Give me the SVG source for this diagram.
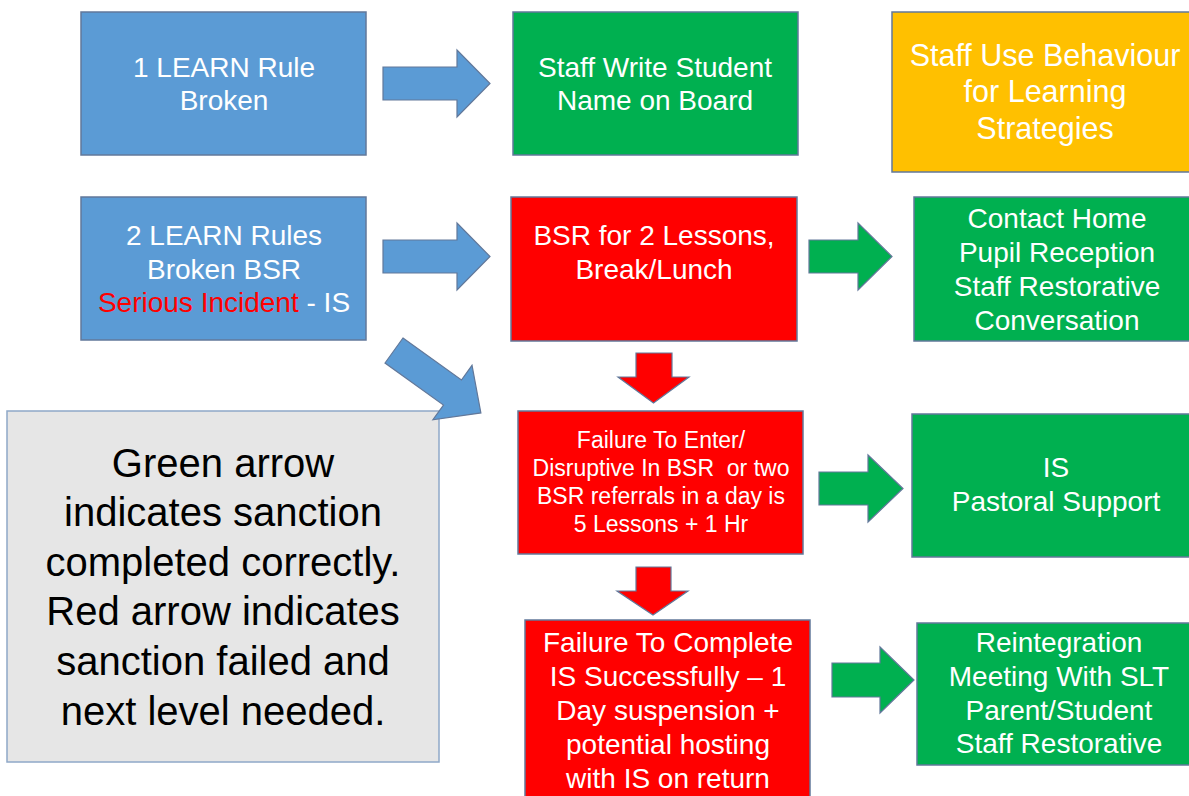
<svg xmlns="http://www.w3.org/2000/svg" width="1189" height="796" viewBox="0 0 1189 796">
  <defs>
    <style>
      .box { stroke: #62789A; stroke-width: 1.5; }
      .blue { fill: #5B9BD5; }
      .green { fill: #00B050; }
      .red { fill: #FF0000; }
      .yellow { fill: #FFC000; }
      .note { fill: #E6E6E6; stroke: #8FA8C8; stroke-width: 1.5; }
      .arrow { stroke: #62789A; stroke-width: 1.2; stroke-linejoin: miter; }
      text { font-family: "Liberation Sans", Arial, sans-serif; text-anchor: middle; }
      .w { fill: #FFFFFF; font-size: 28px; }
      .ws { fill: #FFFFFF; font-size: 23px; }
      .wl { fill: #FFFFFF; font-size: 30.5px; }
      .k { fill: #000000; font-size: 40px; }
      .hl { fill: #FF0000; }
    </style>
  </defs>

  <rect width="1189" height="796" fill="#FFFFFF"/>

  <!-- connectors: block arrows -->
  <g id="connectors">
    <!-- blue: rule broken -> consequence -->
    <polygon class="arrow blue" points="383,67 457,67 457,50 490,83.5 457,117 457,100 383,100"/>
    <polygon class="arrow blue" points="383,240 457,240 457,223 490,256.5 457,290 457,273 383,273"/>
    <!-- red: escalation to next level -->
    <polygon class="arrow red" points="636,353 672,353 672,377 689,377 653.5,403 618,377 636,377"/>
    <polygon class="arrow red" points="636,567 671,567 671,591 688,591 653,615 617,591 636,591"/>
    <!-- green: sanction completed -->
    <polygon class="arrow green" points="809,240 858,240 858,223 892,256.5 858,290 858,273 809,273"/>
    <polygon class="arrow green" points="819,472 868,472 868,455 903,488.5 868,522 868,505 819,505"/>
    <polygon class="arrow green" points="832,663 880,663 880,647 914,680 880,713 880,697 832,697"/>
  </g>

  <!-- row 1 -->
  <g id="one-rule">
    <rect class="box blue" x="81" y="12" width="285" height="143"/>
    <text class="w" x="224" y="77">1 LEARN Rule</text>
    <text class="w" x="224" y="110">Broken</text>
  </g>
  <g id="name-on-board">
    <rect class="box green" x="513" y="12" width="285" height="143"/>
    <text class="w" x="655" y="77">Staff Write Student</text>
    <text class="w" x="655" y="110">Name on Board</text>
  </g>
  <g id="bfl-strategies">
    <rect class="box yellow" x="892" y="12" width="310" height="160"/>
    <text class="wl" x="1045" y="66">Staff Use Behaviour</text>
    <text class="wl" x="1045" y="102">for Learning</text>
    <text class="wl" x="1045" y="139">Strategies</text>
  </g>

  <!-- row 2 -->
  <g id="two-rules">
    <rect class="box blue" x="81" y="197" width="285" height="143"/>
    <text class="w" x="224" y="245">2 LEARN Rules</text>
    <text class="w" x="224" y="279">Broken BSR</text>
    <text class="w" x="224" y="312"><tspan class="hl">Serious Incident</tspan> - IS</text>
  </g>
  <g id="bsr">
    <rect class="box red" x="511" y="197" width="286" height="144"/>
    <text class="w" x="654" y="245">BSR for 2 Lessons,</text>
    <text class="w" x="654" y="279">Break/Lunch</text>
  </g>
  <g id="contact-home">
    <rect class="box green" x="914" y="197" width="290" height="144"/>
    <text class="w" x="1057" y="228">Contact Home</text>
    <text class="w" x="1057" y="262">Pupil Reception</text>
    <text class="w" x="1057" y="296">Staff Restorative</text>
    <text class="w" x="1057" y="330">Conversation</text>
  </g>

  <!-- row 3 -->
  <g id="fail-bsr">
    <rect class="box red" x="518" y="411" width="285" height="143"/>
    <text class="ws" x="661" y="448">Failure To Enter/</text>
    <text class="ws" x="661" y="476" xml:space="preserve">Disruptive In BSR  or two</text>
    <text class="ws" x="661" y="504">BSR referrals in a day is</text>
    <text class="ws" x="661" y="532">5 Lessons + 1 Hr</text>
  </g>
  <g id="is-pastoral">
    <rect class="box green" x="912" y="414" width="290" height="143"/>
    <text class="w" x="1056" y="477">IS</text>
    <text class="w" x="1056" y="511">Pastoral Support</text>
  </g>

  <!-- row 4 -->
  <g id="fail-is">
    <rect class="box red" x="525" y="620" width="285" height="190"/>
    <text class="w" x="668" y="652">Failure To Complete</text>
    <text class="w" x="668" y="686">IS Successfully – 1</text>
    <text class="w" x="668" y="720">Day suspension +</text>
    <text class="w" x="668" y="754">potential hosting</text>
    <text class="w" x="668" y="788">with IS on return</text>
  </g>
  <g id="reintegration">
    <rect class="box green" x="917" y="623" width="285" height="142"/>
    <text class="w" x="1059" y="652">Reintegration</text>
    <text class="w" x="1059" y="686">Meeting With SLT</text>
    <text class="w" x="1059" y="720">Parent/Student</text>
    <text class="w" x="1059" y="753">Staff Restorative</text>
  </g>

  <!-- key -->
  <g id="key">
    <rect class="note" x="7" y="411" width="432" height="351"/>
    <text class="k" x="223" y="477">Green arrow</text>
    <text class="k" x="223" y="526">indicates sanction</text>
    <text class="k" x="223" y="576">completed correctly.</text>
    <text class="k" x="223" y="625">Red arrow indicates</text>
    <text class="k" x="223" y="675">sanction failed and</text>
    <text class="k" x="223" y="725">next level needed.</text>
  </g>

  <!-- diagonal: serious incident goes straight to IS -->
  <g id="connector-diagonal">
    <polygon class="arrow blue" transform="translate(394,350.5) rotate(35.7)" points="0,-15.4 72,-15.4 72,-33.5 107,0 72,33.5 72,15.4 0,15.4"/>
  </g>
</svg>
